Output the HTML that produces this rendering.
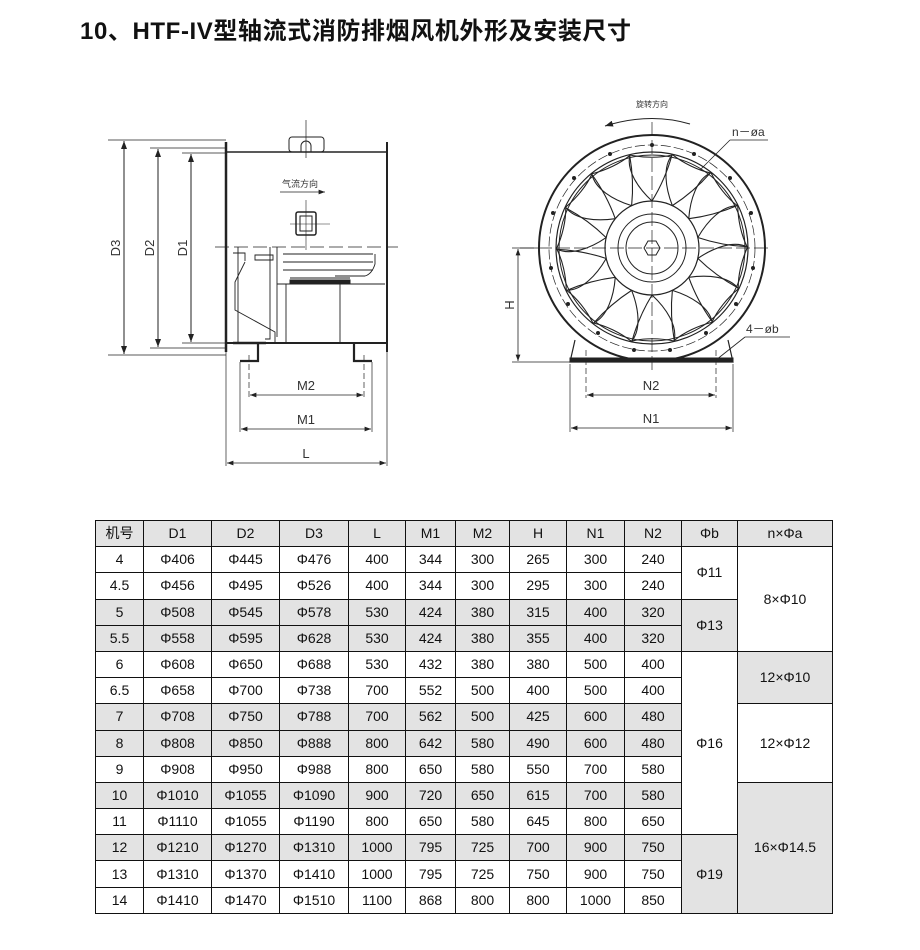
<!DOCTYPE html>
<html><head><meta charset="utf-8">
<style>
body{margin:0;background:#fff;width:920px;height:950px;position:relative;overflow:hidden;font-family:"Liberation Sans","Noto Sans CJK SC",sans-serif}
.title{position:absolute;left:80px;top:11px;font-size:24px;letter-spacing:0.6px;font-weight:bold;color:#111;white-space:nowrap;font-family:"Liberation Sans","Noto Sans CJK SC",sans-serif}
table{position:absolute;left:95px;top:520px;border-collapse:collapse;font-size:14px;color:#111;table-layout:fixed}
td{border:1px solid #111;text-align:center;padding:0;height:25.2px;line-height:25px}
.g{background:#e3e3e3}
</style></head><body>
<div class="title">10、HTF-IV型轴流式消防排烟风机外形及安装尺寸</div>
<svg width="920" height="480" style="position:absolute;left:0;top:0" fill="none" stroke="#222" stroke-width="1">
<defs>
<marker id="a" markerWidth="8" markerHeight="6" refX="8" refY="3" orient="auto-start-reverse"><path d="M0,0 L8,3 L0,6z" fill="#222" stroke="none"/></marker>
<path id="bl" d="M0,-47 C-14,-60 -26,-78 -22,-93 C-8,-90 8,-90 20,-93 C15,-75 8,-60 0,-47Z"/>
</defs>
<g>
<line x1="108" y1="140" x2="226" y2="140" stroke-width=".7"/>
<line x1="150" y1="148" x2="226" y2="148" stroke-width=".7"/>
<line x1="182" y1="153" x2="226" y2="153" stroke-width=".7"/>
<line x1="108" y1="355" x2="226" y2="355" stroke-width=".7"/>
<line x1="150" y1="348" x2="226" y2="348" stroke-width=".7"/>
<line x1="182" y1="343" x2="226" y2="343" stroke-width=".7"/>
<line x1="124" y1="141" x2="124" y2="354" marker-start="url(#a)" marker-end="url(#a)"/>
<line x1="158" y1="149" x2="158" y2="347" marker-start="url(#a)" marker-end="url(#a)"/>
<line x1="191" y1="154" x2="191" y2="342" marker-start="url(#a)" marker-end="url(#a)"/>
<text x="0" y="0" transform="translate(120,248) rotate(-90)" font-size="13" fill="#333" stroke="none" text-anchor="middle" font-family="Liberation Sans">D3</text>
<text x="0" y="0" transform="translate(154,248) rotate(-90)" font-size="13" fill="#333" stroke="none" text-anchor="middle" font-family="Liberation Sans">D2</text>
<text x="0" y="0" transform="translate(187,248) rotate(-90)" font-size="13" fill="#333" stroke="none" text-anchor="middle" font-family="Liberation Sans">D1</text>
<line x1="226" y1="142" x2="226" y2="352" stroke-width="2.5"/>
<line x1="387" y1="142" x2="387" y2="352" stroke-width="2"/>
<line x1="226" y1="152" x2="387" y2="152" stroke-width="1.5"/>
<line x1="226" y1="343" x2="387" y2="343" stroke-width="2"/>
<rect x="289" y="137" width="35" height="15" rx="3"/>
<line x1="306" y1="120" x2="306" y2="158" stroke-width=".7"/>
<path d="M301,152 v-6 a5,5 0 0 1 10,0 v6"/>
<text x="282" y="187" font-size="9" fill="#333" stroke="none" font-family="Noto Sans CJK SC,sans-serif">气流方向</text>
<line x1="280" y1="192" x2="325" y2="192" stroke-width=".8" marker-end="url(#a)"/>
<rect x="296" y="212" width="20" height="23" rx="2" stroke-width="1.5"/>
<rect x="300" y="216" width="12" height="15"/>
<line x1="290" y1="224" x2="330" y2="224" stroke-width=".6"/>
<line x1="306" y1="200" x2="306" y2="250" stroke-width=".6"/>
<line x1="215" y1="247" x2="398" y2="247" stroke-dasharray="14,5" stroke-width=".8"/>
<path d="M238,247 v96 M233,253 h12 v8 M245,262 l-10,20 v28 l40,22 v12 M255,255 h18 v5 h-18z M270,247 v92 h-5 M277,247 v90 M277,284 h108 M286,284 v59 M340,284 v59 M375,254 v10 q-3,10 -10,12 h-30 M283,254 h90 M283,262 h90 M283,270 h90 M290,278 h60" stroke-width=".9"/>
<rect x="290" y="280" width="60" height="4" fill="#222"/>
<line x1="233" y1="343" x2="266" y2="343" stroke-width="2.5"/>
<path d="M258,343 v18 h-18" stroke-width="2.2"/>
<path d="M354,343 v18 h18" stroke-width="2.2"/>
<line x1="240" y1="362" x2="240" y2="432" stroke-width=".7"/>
<line x1="372" y1="362" x2="372" y2="432" stroke-width=".7"/>
<line x1="249" y1="355" x2="249" y2="398" stroke-width=".7" stroke-dasharray="6,3"/>
<line x1="364" y1="355" x2="364" y2="398" stroke-width=".7" stroke-dasharray="6,3"/>
<line x1="226" y1="352" x2="226" y2="466" stroke-width=".7"/>
<line x1="387" y1="352" x2="387" y2="466" stroke-width=".7"/>
<line x1="250" y1="395" x2="363" y2="395" marker-start="url(#a)" marker-end="url(#a)" stroke-width=".8"/>
<line x1="241" y1="429" x2="371" y2="429" marker-start="url(#a)" marker-end="url(#a)" stroke-width=".8"/>
<line x1="227" y1="463" x2="386" y2="463" marker-start="url(#a)" marker-end="url(#a)" stroke-width=".8"/>
<text x="306" y="390" font-size="13" fill="#333" stroke="none" text-anchor="middle" font-family="Liberation Sans">M2</text>
<text x="306" y="424" font-size="13" fill="#333" stroke="none" text-anchor="middle" font-family="Liberation Sans">M1</text>
<text x="306" y="458" font-size="13" fill="#333" stroke="none" text-anchor="middle" font-family="Liberation Sans">L</text>
</g>
<g>
<text x="652" y="107" font-size="8" fill="#333" stroke="none" text-anchor="middle" font-family="Noto Sans CJK SC,sans-serif">旋转方向</text>
<path d="M690,124 Q650,112 605,126" marker-end="url(#a)"/>
<path d="M575,340 L570,362 H733 L728,340" stroke-width="1.2"/>
<rect x="570" y="358" width="163" height="4" fill="#222"/>
<circle cx="652" cy="248" r="113" stroke-width="2"/>
<circle cx="652" cy="248" r="103" stroke-dasharray="10,3" stroke-width=".7"/>
<circle cx="652" cy="248" r="96" stroke-width="1.2"/>
<circle cx="652" cy="248" r="93"/>
<g transform="translate(652,248)" stroke-width="1.1">
<use href="#bl" transform="rotate(0)"/><use href="#bl" transform="rotate(25.7)"/><use href="#bl" transform="rotate(51.4)"/><use href="#bl" transform="rotate(77.1)"/><use href="#bl" transform="rotate(102.8)"/><use href="#bl" transform="rotate(128.6)"/><use href="#bl" transform="rotate(154.3)"/><use href="#bl" transform="rotate(180)"/><use href="#bl" transform="rotate(205.7)"/><use href="#bl" transform="rotate(231.4)"/><use href="#bl" transform="rotate(257.1)"/><use href="#bl" transform="rotate(282.8)"/><use href="#bl" transform="rotate(308.6)"/><use href="#bl" transform="rotate(334.3)"/>
</g>
<circle cx="652" cy="248" r="47" fill="#fff" stroke-width="1.2"/>
<circle cx="652" cy="248" r="34"/>
<circle cx="652" cy="248" r="26"/>
<polygon points="660,248 656,255 648,255 644,248 648,241 656,241"/>
<line x1="520" y1="248" x2="772" y2="248" stroke-dasharray="14,4" stroke-width=".7"/>
<line x1="652" y1="122" x2="652" y2="370" stroke-dasharray="14,4" stroke-width=".7"/>
<g fill="#222" stroke="none">
<circle cx="652" cy="145" r="2"/><circle cx="694" cy="154" r="2"/><circle cx="730" cy="178" r="2"/><circle cx="751" cy="213" r="2"/><circle cx="753" cy="268" r="2"/><circle cx="736" cy="304" r="2"/><circle cx="706" cy="333" r="2"/><circle cx="670" cy="350" r="2"/><circle cx="634" cy="350" r="2"/><circle cx="598" cy="333" r="2"/><circle cx="568" cy="304" r="2"/><circle cx="551" cy="268" r="2"/><circle cx="553" cy="213" r="2"/><circle cx="574" cy="178" r="2"/><circle cx="610" cy="154" r="2"/>
</g>
<line x1="730" y1="140" x2="768" y2="140" stroke-width=".8"/>
<line x1="730" y1="140" x2="700" y2="170" stroke-width=".8"/>
<text x="732" y="136" font-size="12" fill="#333" stroke="none" font-family="Liberation Sans">n－øa</text>
<line x1="745" y1="337" x2="790" y2="337" stroke-width=".8"/>
<line x1="745" y1="337" x2="716" y2="360" stroke-width=".8"/>
<text x="746" y="333" font-size="12" fill="#333" stroke="none" font-family="Liberation Sans">4－øb</text>
<line x1="512" y1="248" x2="540" y2="248" stroke-width=".7"/>
<line x1="512" y1="362" x2="570" y2="362" stroke-width=".8"/>
<line x1="518" y1="249" x2="518" y2="361" marker-start="url(#a)" marker-end="url(#a)" stroke-width=".8"/>
<text x="0" y="0" transform="translate(514,305) rotate(-90)" font-size="13" fill="#333" stroke="none" text-anchor="middle" font-family="Liberation Sans">H</text>
<line x1="586" y1="350" x2="586" y2="398" stroke-dasharray="6,3" stroke-width=".7"/>
<line x1="716" y1="350" x2="716" y2="398" stroke-dasharray="6,3" stroke-width=".7"/>
<line x1="570" y1="364" x2="570" y2="432" stroke-width=".7"/>
<line x1="733" y1="364" x2="733" y2="432" stroke-width=".7"/>
<line x1="587" y1="395" x2="715" y2="395" marker-start="url(#a)" marker-end="url(#a)" stroke-width=".8"/>
<line x1="571" y1="428" x2="732" y2="428" marker-start="url(#a)" marker-end="url(#a)" stroke-width=".8"/>
<text x="651" y="390" font-size="13" fill="#333" stroke="none" text-anchor="middle" font-family="Liberation Sans">N2</text>
<text x="651" y="423" font-size="13" fill="#333" stroke="none" text-anchor="middle" font-family="Liberation Sans">N1</text>
</g>
</svg>
<table>
<colgroup><col style="width:48px"><col style="width:68px"><col style="width:68px"><col style="width:69px"><col style="width:57px"><col style="width:50px"><col style="width:54px"><col style="width:57px"><col style="width:58px"><col style="width:57px"><col style="width:56px"><col style="width:95px"></colgroup>
<tr class="g"><td>机号</td><td>D1</td><td>D2</td><td>D3</td><td>L</td><td>M1</td><td>M2</td><td>H</td><td>N1</td><td>N2</td><td>Φb</td><td>n×Φa</td></tr>
<tr><td>4</td><td>Φ406</td><td>Φ445</td><td>Φ476</td><td>400</td><td>344</td><td>300</td><td>265</td><td>300</td><td>240</td><td rowspan="2">Φ11</td><td rowspan="4">8×Φ10</td></tr>
<tr><td>4.5</td><td>Φ456</td><td>Φ495</td><td>Φ526</td><td>400</td><td>344</td><td>300</td><td>295</td><td>300</td><td>240</td></tr>
<tr class="g"><td>5</td><td>Φ508</td><td>Φ545</td><td>Φ578</td><td>530</td><td>424</td><td>380</td><td>315</td><td>400</td><td>320</td><td rowspan="2">Φ13</td></tr>
<tr class="g"><td>5.5</td><td>Φ558</td><td>Φ595</td><td>Φ628</td><td>530</td><td>424</td><td>380</td><td>355</td><td>400</td><td>320</td></tr>
<tr><td>6</td><td>Φ608</td><td>Φ650</td><td>Φ688</td><td>530</td><td>432</td><td>380</td><td>380</td><td>500</td><td>400</td><td rowspan="7" style="background:#fff">Φ16</td><td rowspan="2" class="g">12×Φ10</td></tr>
<tr><td>6.5</td><td>Φ658</td><td>Φ700</td><td>Φ738</td><td>700</td><td>552</td><td>500</td><td>400</td><td>500</td><td>400</td></tr>
<tr class="g"><td>7</td><td>Φ708</td><td>Φ750</td><td>Φ788</td><td>700</td><td>562</td><td>500</td><td>425</td><td>600</td><td>480</td><td rowspan="3" style="background:#fff">12×Φ12</td></tr>
<tr class="g"><td>8</td><td>Φ808</td><td>Φ850</td><td>Φ888</td><td>800</td><td>642</td><td>580</td><td>490</td><td>600</td><td>480</td></tr>
<tr><td>9</td><td>Φ908</td><td>Φ950</td><td>Φ988</td><td>800</td><td>650</td><td>580</td><td>550</td><td>700</td><td>580</td></tr>
<tr class="g"><td>10</td><td>Φ1010</td><td>Φ1055</td><td>Φ1090</td><td>900</td><td>720</td><td>650</td><td>615</td><td>700</td><td>580</td><td rowspan="5" class="g">16×Φ14.5</td></tr>
<tr><td>11</td><td>Φ1110</td><td>Φ1055</td><td>Φ1190</td><td>800</td><td>650</td><td>580</td><td>645</td><td>800</td><td>650</td></tr>
<tr class="g"><td>12</td><td>Φ1210</td><td>Φ1270</td><td>Φ1310</td><td>1000</td><td>795</td><td>725</td><td>700</td><td>900</td><td>750</td><td rowspan="3" class="g">Φ19</td></tr>
<tr><td>13</td><td>Φ1310</td><td>Φ1370</td><td>Φ1410</td><td>1000</td><td>795</td><td>725</td><td>750</td><td>900</td><td>750</td></tr>
<tr><td>14</td><td>Φ1410</td><td>Φ1470</td><td>Φ1510</td><td>1100</td><td>868</td><td>800</td><td>800</td><td>1000</td><td>850</td></tr>
</table>
</body></html>
